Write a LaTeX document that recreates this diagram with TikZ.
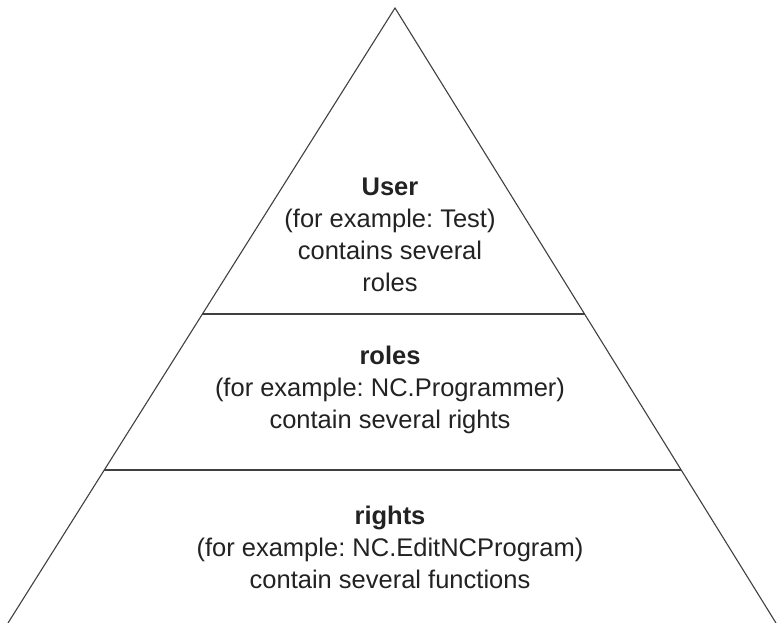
\documentclass[tikz,border=0pt]{standalone}
\usepackage{fontspec}
\setmainfont{Liberation Sans}
\usetikzlibrary{calc}
\definecolor{edge}{HTML}{404040}
\definecolor{ink}{HTML}{222222}
\frenchspacing
\tikzset{
  side/.style={draw=edge,line width=1.1pt},
  layer/.style={align=center,text=ink,font=\fontsize{25.5}{32}\selectfont,inner sep=0pt}
}
\begin{document}
\begin{tikzpicture}[x=1pt,y=-1pt]
  \useasboundingbox (0,0) rectangle (777,623);
  \coordinate (apex) at (395,8);
  \coordinate (bl) at (8,623);
  \coordinate (br) at (776,623);
  \coordinate (l1) at ($(apex)!0.4976!(bl)$);
  \coordinate (r1) at ($(apex)!0.4976!(br)$);
  \coordinate (l2) at ($(apex)!0.7512!(bl)$);
  \coordinate (r2) at ($(apex)!0.7512!(br)$);
  \draw[side] (bl) -- (apex) -- (br);
  \draw[side] (l1) -- (r1);
  \draw[side] (l2) -- (r2);
  \node[layer] (user) at (390,235) {\textbf{User}\\(for example: Test)\\contains several\\roles};
  \node[layer] (roles) at (390,390) {\textbf{roles}\\(for example: NC.Programmer)\\contain several rights};
  \node[layer] (rights) at (390,547) {\textbf{rights}\\(for example: NC.EditNCProgram)\\contain several functions};
\end{tikzpicture}
\end{document}
